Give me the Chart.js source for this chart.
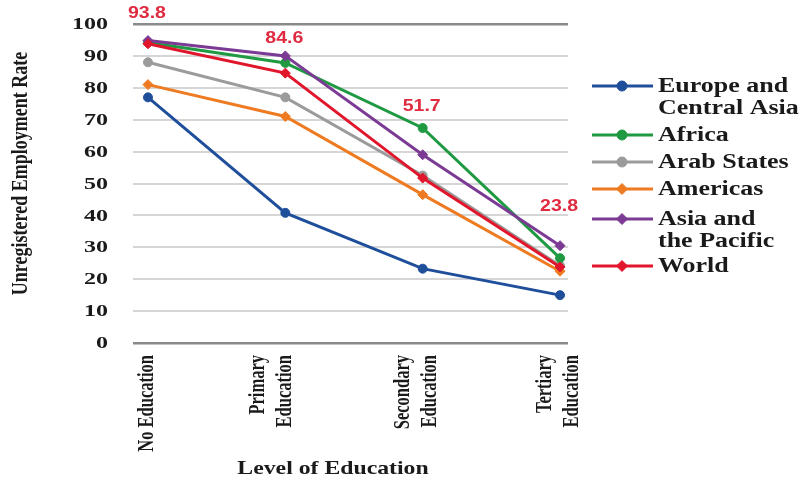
<!DOCTYPE html>
<html><head><meta charset="utf-8">
<script src="https://cdn.jsdelivr.net/npm/chart.js@4/dist/chart.umd.min.js"></script>
<style>html,body{margin:0;padding:0;background:#fff}#wrap{width:801px;height:484px;position:relative}</style>
</head><body><div id="wrap"><canvas id="c" width="801" height="484"></canvas></div>
<script>
// ---- data ----
const categories = [["No Education"], ["Primary", "Education"], ["Secondary", "Education"], ["Tertiary", "Education"]];
const seriesNames = [["Europe and", "Central Asia"], ["Africa"], ["Arab States"], ["Americas"], ["Asia and", "the Pacific"], ["World"]];
const europe      = [77.0, 40.8, 23.3, 15.0];
const africa      = [94.2, 87.8, 67.4, 26.6];
const arabStates  = [88.0, 77.0, 52.5, 24.2];
const americas    = [81.0, 71.0, 46.5, 22.5];
const asiaPacific = [94.8, 90.0, 59.0, 30.5];
const world       = [93.8, 84.6, 51.7, 23.8];
const worldLabels = ["93.8", "84.6", "51.7", "23.8"];
const yTickValues = [0, 10, 20, 30, 40, 50, 60, 70, 80, 90, 100];
const yTitle = "Unregistered Employment Rate";
const xTitle = "Level of Education";

// ---- styles ----
const seriesValues = [europe, africa, arabStates, americas, asiaPacific, world];
const colors = ['#1f4e9a', '#1f9a42', '#9b9b9b', '#ee7b21', '#7b3a94', '#e1152b'];
const markers = ['circle', 'circle', 'circle', 'rectRot', 'rectRot', 'rectRot'];
const drawOrder = [5, 3, 4, 2, 1, 0];
const SERIF = '"Liberation Serif", "Times New Roman", serif';
const SANS = '"Liberation Sans", Arial, sans-serif';
const labelRaise = [30, 35, 71, 60];
const xLabelShift = [-1, -14, -6, -2];
const legendRows = [86, 135, 162, 189, 219, 266];

function stretchText(ctx, text, x, y, font, color, align, baseline, sx, rot) {
  ctx.save();
  ctx.translate(x, y);
  ctx.scale(sx, 1);
  if (rot) ctx.rotate(rot);
  ctx.font = font; ctx.fillStyle = color;
  ctx.textAlign = align; ctx.textBaseline = baseline;
  ctx.fillText(text, 0, 0);
  ctx.restore();
}

const textPlugin = {
  id: 'textPlugin',
  afterDraw(chart) {
    const ctx = chart.ctx;
    const xs = chart.scales.x, ys = chart.scales.y;
    // y tick labels
    yTickValues.forEach(v => {
      stretchText(ctx, String(v), 108, ys.getPixelForValue(v) + 1, 'bold 16px ' + SERIF, '#1a1a1a', 'right', 'middle', 1.5, 0);
    });
    // y title
    stretchText(ctx, yTitle, 21, (ys.top + ys.bottom) / 2 - 10, 'bold 18px ' + SERIF, '#1a1a1a', 'center', 'middle', 1.3, -Math.PI / 2);
    // x labels
    categories.forEach((lines, i) => {
      const cx = xs.getPixelForValue(i) + xLabelShift[i];
      const gap = 27;
      lines.forEach((ln, j) => {
        const lx = cx + (j - (lines.length - 1) / 2) * gap;
        stretchText(ctx, ln, lx, 355, 'bold 16.5px ' + SERIF, '#1a1a1a', 'right', 'middle', 1.4, -Math.PI / 2);
      });
    });
    // x title
    stretchText(ctx, xTitle, 333, 469, 'bold 19px ' + SERIF, '#1a1a1a', 'center', 'middle', 1.25, 0);
    // world data labels
    worldLabels.forEach((t, i) => {
      const px = xs.getPixelForValue(i);
      const py = ys.getPixelForValue(world[i]) - labelRaise[i];
      stretchText(ctx, t, px - 1, py, 'bold 16px ' + SANS, '#e02a40', 'center', 'middle', 1.22, 0);
    });
    // legend
    seriesNames.forEach((lines, i) => {
      const ry = legendRows[i];
      ctx.save();
      ctx.strokeStyle = colors[i]; ctx.fillStyle = colors[i]; ctx.lineWidth = 3;
      ctx.beginPath(); ctx.moveTo(592, ry); ctx.lineTo(653, ry); ctx.stroke();
      ctx.lineWidth = 1;
      Chart.helpers.drawPoint(ctx, { pointStyle: markers[i], radius: markers[i] === 'circle' ? 5 : 5.5, borderWidth: 1, rotation: 0 }, 622, ry);
      ctx.restore();
      lines.forEach((ln, j) => {
        stretchText(ctx, ln, 658, ry + 1 + j * 22, 'bold 20px ' + SERIF, '#1a1a1a', 'left', 'middle', 1.3, 0);
      });
    });
  }
};

const datasets = seriesValues.map((vals, i) => ({
  label: seriesNames[i].join(' '),
  data: vals.map((v, k) => ({ x: k, y: v })),
  borderColor: colors[i],
  backgroundColor: colors[i],
  pointBackgroundColor: colors[i],
  pointBorderColor: colors[i],
  pointStyle: markers[i],
  pointRadius: markers[i] === 'circle' ? 4.5 : 5,
  pointBorderWidth: 1,
  borderWidth: 3,
  tension: 0,
  order: drawOrder[i],
  clip: false
}));

new Chart(document.getElementById('c'), {
  type: 'line',
  data: { datasets },
  options: {
    responsive: false,
    animation: false,
    devicePixelRatio: 1,
    layout: { padding: { left: 133, right: 233, top: 24, bottom: 141 } },
    plugins: { legend: { display: false }, tooltip: { enabled: false } },
    scales: {
      x: { type: 'linear', min: -0.109, max: 3.058, display: false },
      y: {
        min: 0, max: 100,
        ticks: { display: false, stepSize: 10 },
        border: { display: false },
        grid: {
          drawTicks: false,
          color: c => (c.tick.value === 0 || c.tick.value === 100) ? '#8a8a8a' : '#d6d6d6',
          lineWidth: c => (c.tick.value === 0 || c.tick.value === 100) ? 2.5 : 2
        }
      }
    }
  },
  plugins: [textPlugin]
});
</script>
</body></html>
